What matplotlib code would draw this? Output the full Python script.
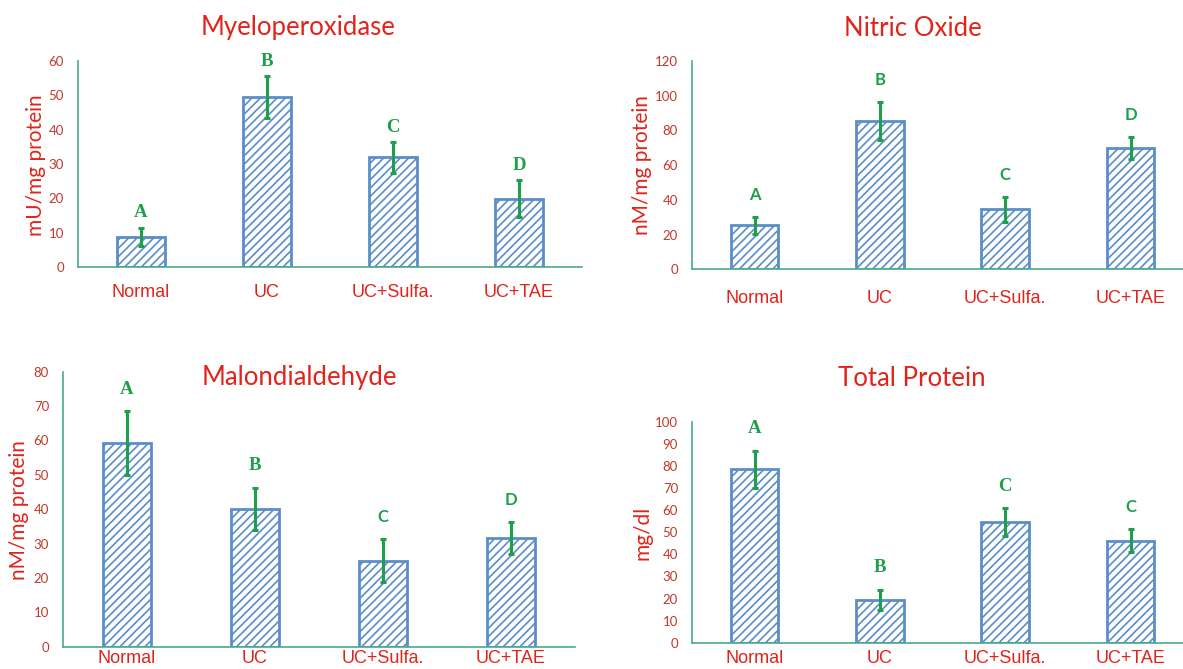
import matplotlib
matplotlib.use("Agg")
import matplotlib.pyplot as plt
import matplotlib.transforms as mtransforms

# ---------------- data ----------------
groups = ["Normal", "UC", "UC+Sulfa.", "UC+TAE"]

mpo_mean = [8.8, 49.4, 31.9, 19.9]
mpo_err = [2.6, 6.1, 4.4, 5.3]
mpo_letters = ["A", "B", "C", "D"]

no_mean = [25.3, 85.6, 34.6, 69.9]
no_err = [5.0, 11.0, 7.2, 6.5]
no_letters = ["A", "B", "C", "D"]

mda_mean = [59.2, 40.1, 25.0, 31.6]
mda_err = [9.3, 6.2, 6.3, 4.7]
mda_letters = ["A", "B", "C", "D"]

tp_mean = [78.5, 19.3, 54.7, 46.2]
tp_err = [8.5, 4.6, 6.3, 5.2]
tp_letters = ["A", "B", "C", "C"]

titles = ["Myeloperoxidase", "Nitric Oxide", "Malondialdehyde", "Total Protein"]
ylabels = ["mU/mg protein", "nM/mg protein", "nM/mg protein", "mg/dl"]
yticks = [list(range(0, 61, 10)), list(range(0, 121, 20)),
          list(range(0, 81, 10)), list(range(0, 101, 10))]

# ---------------- style ----------------
W, H = 1183, 669
RED = "#e2231a"
TICKRED = "#c0392b"
GREEN = "#1f9e4c"
BLUE = "#5b8ec8"
SPINE = "#4aaa8a"
SERIF = "Liberation Serif"
SANS_L = "Lato"

plt.rcParams["hatch.linewidth"] = 1.2
plt.rcParams["hatch.color"] = BLUE

fig = plt.figure(figsize=(W / 100, H / 100), dpi=100)


def px_axes(left, right, top, bottom):
    return fig.add_axes([left / W, 1 - bottom / H, (right - left) / W, (bottom - top) / H])


panels = [
    dict(rect=(78, 582, 61, 267), xmax=3.5, mean=mpo_mean, err=mpo_err, letters=mpo_letters,
         lfont=["serif"] * 4, loff=15, title_xy=(298, 28), ylab_xy=(36, 165), xpad=12,
         xoffs=[2, 16, 10, -8]),
    dict(rect=(692, 1183, 61, 269.3), xmax=-0.5 + 491 / 125.3, mean=no_mean, err=no_err,
         letters=no_letters, lfont=["sans"] * 4, loff=22, title_xy=(913, 28),
         ylab_xy=(642, 165), xpad=15, xoffs=[0, 0, 0, 0]),
    dict(rect=(63, 575, 371.7, 646.7), xmax=3.5, mean=mda_mean, err=mda_err,
         letters=mda_letters, lfont=["serif", "serif", "sans", "sans"], loff=22,
         title_xy=(299, 378), ylab_xy=(19, 510), xpad=2.5, xoffs=[0, 0, 0, 0]),
    dict(rect=(692, 1183, 422, 642.7), xmax=-0.5 + 491 / 125.3, mean=tp_mean, err=tp_err,
         letters=tp_letters, lfont=["serif", "serif", "serif", "sans"], loff=22,
         title_xy=(912, 378), ylab_xy=(642, 533), xpad=5, xoffs=[0, 0, 0, 0]),
]

for i, p in enumerate(panels):
    ax = px_axes(*p["rect"])
    x = list(range(len(groups)))
    ax.bar(x, p["mean"], width=0.38, facecolor="white", edgecolor=BLUE,
           linewidth=2.0, hatch="////", zorder=2)
    ax.errorbar(x, p["mean"], yerr=p["err"], fmt="none", ecolor=GREEN,
                elinewidth=2.2, capsize=2.5, capthick=2.2, zorder=3)
    for xi, m, e, lt, lf in zip(x, p["mean"], p["err"], p["letters"], p["lfont"]):
        if lf == "serif":
            kw = dict(family=SERIF, fontsize=13.5, fontweight="bold")
        else:
            kw = dict(family=SANS_L, fontsize=12, fontweight="bold")
        ax.annotate(lt, (xi, m + e), xytext=(0, p["loff"] * 0.72), textcoords="offset points",
                    ha="center", va="center", color=GREEN, zorder=4, **kw)

    yt = yticks[i]
    ax.set_ylim(0, yt[-1])
    ax.set_xlim(-0.5, p["xmax"])
    ax.set_yticks(yt)
    ax.set_yticklabels([str(v) for v in yt], family=SANS_L, fontsize=9.5, color=TICKRED)
    ax.set_xticks(x)
    ax.set_xticklabels(groups, family="Liberation Sans", fontsize=13, color=RED)
    for lbl, dx in zip(ax.get_xticklabels(), p["xoffs"]):
        lbl.set_transform(lbl.get_transform() +
                          mtransforms.ScaledTranslation(dx / 100, 0, fig.dpi_scale_trans))
    ax.tick_params(axis="both", length=0)
    ax.tick_params(axis="y", pad=10)
    ax.tick_params(axis="x", pad=p["xpad"])
    for s in ("top", "right"):
        ax.spines[s].set_visible(False)
    for s in ("left", "bottom"):
        ax.spines[s].set_color(SPINE)
        ax.spines[s].set_linewidth(1.2)
    ax.set_facecolor("none")

    tx, ty = p["title_xy"]
    fig.text(tx / W, 1 - ty / H, titles[i], ha="center", va="center",
             family=SANS_L, fontsize=18.5, color=RED)
    lx, ly = p["ylab_xy"]
    fig.text(lx / W, 1 - ly / H, ylabels[i], ha="center", va="center", rotation=90,
             family=SANS_L, fontsize=15, color=RED)

fig.savefig("out.png", dpi=100)
